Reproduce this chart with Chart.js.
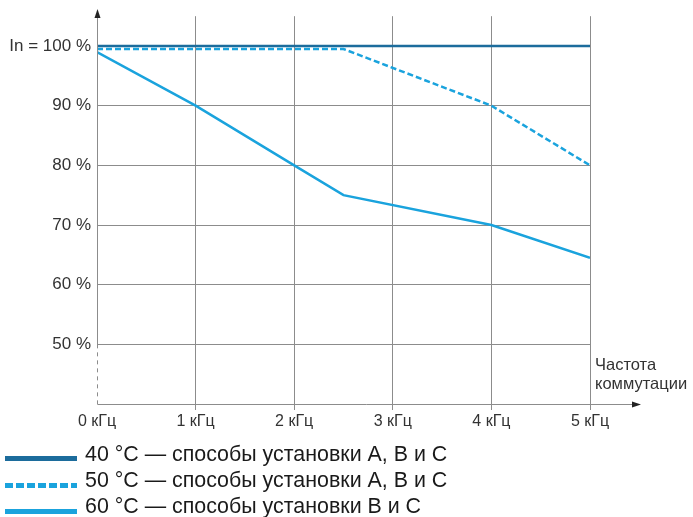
<!DOCTYPE html>
<html>
<head>
<meta charset="utf-8">
<script src="https://cdn.jsdelivr.net/npm/chart.js@4/dist/chart.umd.min.js"></script>
<style>
  html, body { margin: 0; padding: 0; background: #fff; }
  #wrap { position: relative; width: 693px; height: 517px; font-family: "Liberation Sans", Arial, sans-serif; }
  canvas { position: absolute; left: 0; top: 0; }
  .lg { position: absolute; left: 5px; width: 72px; height: 5px; }
  .lt { position: absolute; left: 85px; font-size: 21.4px; color: #1a1a1a; line-height: 24px; white-space: nowrap; }
  .ax { position: absolute; font-size: 16px; color: #333; line-height: 19px; }
</style>
</head>
<body>
<div id="wrap">
  <canvas id="c" width="693" height="517"></canvas>
  <div class="ax" style="left:595px; top:355px; font-size:16.5px;">Частота<br>коммутации</div>
  <div class="lg" style="top:456px; background:#1c6c9c;"></div>
  <div class="lt" style="top:442px;">40 °C — способы установки A, B и C</div>
  <div class="lg" style="top:483px; background:repeating-linear-gradient(90deg,#1aa3dd 0 8px,transparent 8px 11px);"></div>
  <div class="lt" style="top:468px;">50 °C — способы установки A, B и C</div>
  <div class="lg" style="top:509px; background:#1aa3dd;"></div>
  <div class="lt" style="top:494px;">60 °C — способы установки B и C</div>
</div>
<script>
const freqTicks = [0, 1, 2, 3, 4, 5];
const freqLabels = ['0 кГц', '1 кГц', '2 кГц', '3 кГц', '4 кГц', '5 кГц'];
const pctTicks = [40, 50, 60, 70, 80, 90, 100];
const pctLabels = ['', '50 %', '60 %', '70 %', '80 %', '90 %', 'In = 100 %'];

const s40x = [0, 5];
const s40y = [100, 100];
const s50x = [0, 2.5, 4, 5];
const s50y = [99.5, 99.5, 90, 80];
const s60x = [0, 1, 2, 2.5, 4, 5];
const s60y = [99, 90, 80, 75, 70, 64.5];

const toPts = (xs, ys) => xs.map((x, i) => ({ x: x, y: ys[i] }));

const axesPlugin = {
  id: 'axesPlugin',
  afterDraw(chart) {
    const ctx = chart.ctx;
    const xs = chart.scales.x, ys = chart.scales.y;
    const x0 = Math.round(xs.getPixelForValue(0)) + 0.5;
    const yb = Math.round(ys.getPixelForValue(40)) + 0.5;
    const y50 = ys.getPixelForValue(50);
    ctx.save();
    ctx.strokeStyle = '#8c8c8c';
    ctx.lineWidth = 1;
    ctx.beginPath();
    ctx.moveTo(x0, y50);
    ctx.lineTo(x0, 14);
    ctx.stroke();
    ctx.setLineDash([4, 4]);
    ctx.beginPath();
    ctx.moveTo(x0, y50);
    ctx.lineTo(x0, yb);
    ctx.stroke();
    ctx.setLineDash([]);
    ctx.beginPath();
    ctx.moveTo(x0, yb);
    ctx.lineTo(636, yb);
    ctx.stroke();
    ctx.fillStyle = '#222';
    ctx.beginPath();
    ctx.moveTo(x0, 9);
    ctx.lineTo(x0 - 3, 18);
    ctx.lineTo(x0 + 3, 18);
    ctx.closePath();
    ctx.fill();
    ctx.beginPath();
    ctx.moveTo(641, yb);
    ctx.lineTo(632, yb - 3);
    ctx.lineTo(632, yb + 3);
    ctx.closePath();
    ctx.fill();
    ctx.restore();
  }
};

new Chart(document.getElementById('c'), {
  type: 'line',
  data: {
    datasets: [
      { label: '60 °C', data: toPts(s60x, s60y), borderColor: '#1aa3dd', borderWidth: 2.5, pointRadius: 0, tension: 0 },
      { label: '50 °C', data: toPts(s50x, s50y), borderColor: '#1aa3dd', borderWidth: 2.5, borderDash: [6, 3], pointRadius: 0, tension: 0 },
      { label: '40 °C', data: toPts(s40x, s40y), borderColor: '#1c6c9c', borderWidth: 2.5, pointRadius: 0, tension: 0 }
    ]
  },
  options: {
    responsive: false,
    animation: false,
    layout: { padding: { left: 0, top: 15, right: 103, bottom: 0 } },
    plugins: { legend: { display: false }, tooltip: { enabled: false } },
    scales: {
      x: {
        type: 'linear', min: 0, max: 5,
        afterBuildTicks: (s) => { s.ticks = freqTicks.map(v => ({ value: v })); },
        afterFit: (s) => { s.height = 113; },
        border: { display: false },
        grid: {
          color: (c) => (c.tick && c.tick.value === 0) ? 'rgba(0,0,0,0)' : '#8c8c8c',
          lineWidth: 1, drawTicks: true, tickLength: 6
        },
        ticks: {
          padding: 2,
          color: '#333',
          font: { family: 'Liberation Sans', size: 16 },
          maxRotation: 0,
          autoSkip: false,
          callback: (v) => freqLabels[freqTicks.indexOf(v)]
        }
      },
      y: {
        min: 40, max: 105,
        afterBuildTicks: (s) => { s.ticks = pctTicks.map(v => ({ value: v })); },
        afterFit: (s) => { s.width = 97; },
        border: { display: false },
        grid: {
          color: (c) => (c.tick && c.tick.value === 40) ? 'rgba(0,0,0,0)' : '#8c8c8c',
          lineWidth: 1, drawTicks: false
        },
        ticks: {
          padding: 6,
          color: '#333',
          font: { family: 'Liberation Sans', size: 17 },
          autoSkip: false,
          callback: (v) => pctLabels[pctTicks.indexOf(v)]
        }
      }
    }
  },
  plugins: [axesPlugin]
});
</script>
</body>
</html>
